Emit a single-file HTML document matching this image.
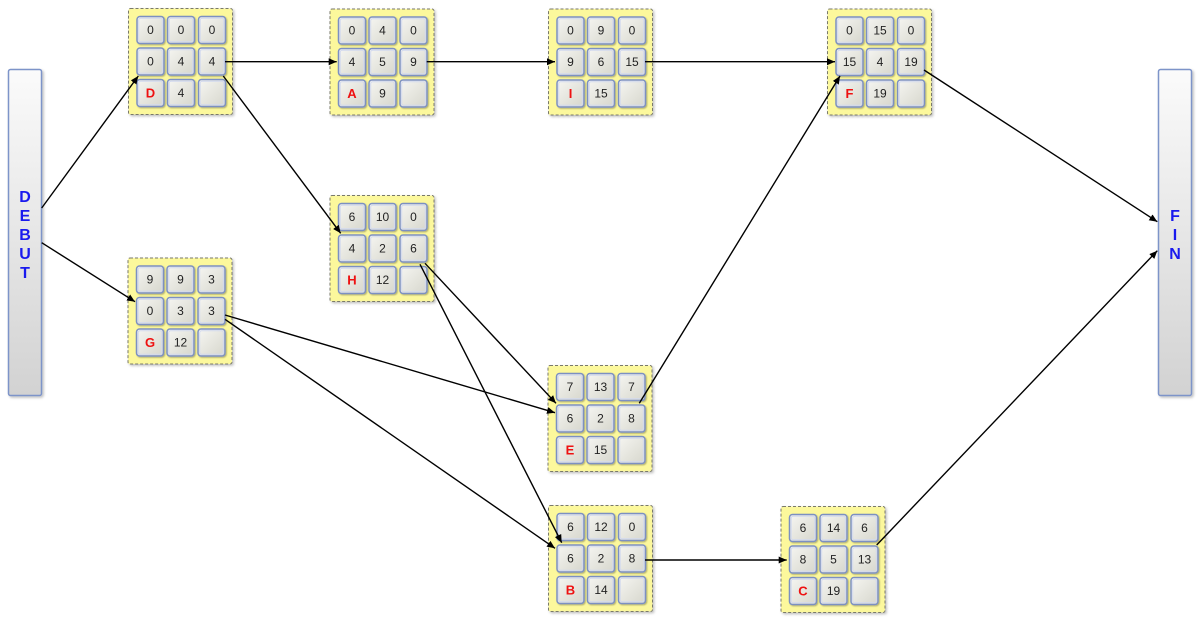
<!DOCTYPE html>
<html>
<head>
<meta charset="utf-8">
<style>
  html,body{margin:0;padding:0;background:#fff;}
  svg{display:block;}
  text{font-family:"Liberation Sans",Arial,sans-serif;}
  .n{font-size:12px;fill:#222;text-anchor:middle;}
  .l{font-size:13px;fill:#ee1111;font-weight:bold;text-anchor:middle;}
  .big{font-size:16px;fill:#1a1aee;font-weight:bold;text-anchor:middle;}
</style>
</head>
<body>
<svg width="1200" height="621" viewBox="0 0 1200 621" xmlns="http://www.w3.org/2000/svg">
  <defs>
    <linearGradient id="cg" x1="0" y1="0" x2="1" y2="1">
      <stop offset="0" stop-color="#f6f6f2"/>
      <stop offset="1" stop-color="#d6d6cc"/>
    </linearGradient>
    <linearGradient id="bg" x1="0" y1="0" x2="0" y2="1">
      <stop offset="0" stop-color="#fbfbfb"/>
      <stop offset="1" stop-color="#d2d2d2"/>
    </linearGradient>
    <filter id="sh" x="-10%" y="-10%" width="125%" height="125%">
      <feDropShadow dx="1.5" dy="1.5" stdDeviation="1.2" flood-color="#000" flood-opacity="0.25"/>
    </filter>
    <filter id="csh" x="-10%" y="-10%" width="130%" height="130%">
      <feDropShadow dx="1" dy="1" stdDeviation="0.7" flood-color="#000" flood-opacity="0.3"/>
    </filter>
    <g id="cell">
      <rect x="0.5" y="0.5" width="27" height="27" rx="3" fill="url(#cg)" stroke="#7c90c2" stroke-width="1.5" filter="url(#csh)"/>
      <rect x="2.2" y="2.2" width="23.6" height="23.6" rx="2" fill="none" stroke="#d2d9ee" stroke-width="1"/>
    </g>
    <g id="box">
      <rect x="0.5" y="0.5" width="104" height="106" rx="2" fill="#fcf89c" stroke="#7a7a6a" stroke-width="1" stroke-dasharray="3,2" filter="url(#sh)"/>
      <use href="#cell" x="8.5" y="8"/>
      <use href="#cell" x="39" y="8"/>
      <use href="#cell" x="70" y="8"/>
      <use href="#cell" x="8.5" y="39.5"/>
      <use href="#cell" x="39" y="39.5"/>
      <use href="#cell" x="70" y="39.5"/>
      <use href="#cell" x="8.5" y="71"/>
      <use href="#cell" x="39" y="71"/>
      <use href="#cell" x="70" y="71"/>
    </g>
    <marker id="ah" markerUnits="userSpaceOnUse" markerWidth="9" markerHeight="8" refX="8" refY="3.5" orient="auto">
      <path d="M0,0 L8,3.5 L0,7 z" fill="#000"/>
    </marker>
  </defs>

  <!-- DEBUT / FIN bars -->
  <rect x="8.5" y="69.5" width="33" height="326" rx="2" fill="url(#bg)" stroke="#7d94c9" stroke-width="1.5" filter="url(#sh)"/>
  <text class="big" x="25" y="202">D</text>
  <text class="big" x="25" y="221">E</text>
  <text class="big" x="25" y="240">B</text>
  <text class="big" x="25" y="259">U</text>
  <text class="big" x="25" y="278">T</text>

  <rect x="1158.5" y="69.5" width="33" height="326" rx="2" fill="url(#bg)" stroke="#7d94c9" stroke-width="1.5" filter="url(#sh)"/>
  <text class="big" x="1175" y="221">F</text>
  <text class="big" x="1175" y="240">I</text>
  <text class="big" x="1175" y="259">N</text>

  <!-- Node D -->
  <g transform="translate(128,8)">
    <use href="#box"/>
    <text class="n" x="22.5" y="26">0</text><text class="n" x="53" y="26">0</text><text class="n" x="84" y="26">0</text>
    <text class="n" x="22.5" y="57.5">0</text><text class="n" x="53" y="57.5">4</text><text class="n" x="84" y="57.5">4</text>
    <text class="l" x="22.5" y="89.5">D</text><text class="n" x="53" y="89">4</text>
  </g>
  <!-- Node A -->
  <g transform="translate(329.5,8.5)">
    <use href="#box"/>
    <text class="n" x="22.5" y="26">0</text><text class="n" x="53" y="26">4</text><text class="n" x="84" y="26">0</text>
    <text class="n" x="22.5" y="57.5">4</text><text class="n" x="53" y="57.5">5</text><text class="n" x="84" y="57.5">9</text>
    <text class="l" x="22.5" y="89.5">A</text><text class="n" x="53" y="89">9</text>
  </g>
  <!-- Node I -->
  <g transform="translate(548,8.5)">
    <use href="#box"/>
    <text class="n" x="22.5" y="26">0</text><text class="n" x="53" y="26">9</text><text class="n" x="84" y="26">0</text>
    <text class="n" x="22.5" y="57.5">9</text><text class="n" x="53" y="57.5">6</text><text class="n" x="84" y="57.5">15</text>
    <text class="l" x="22.5" y="89.5">I</text><text class="n" x="53" y="89">15</text>
  </g>
  <!-- Node F -->
  <g transform="translate(827,8.5)">
    <use href="#box"/>
    <text class="n" x="22.5" y="26">0</text><text class="n" x="53" y="26">15</text><text class="n" x="84" y="26">0</text>
    <text class="n" x="22.5" y="57.5">15</text><text class="n" x="53" y="57.5">4</text><text class="n" x="84" y="57.5">19</text>
    <text class="l" x="22.5" y="89.5">F</text><text class="n" x="53" y="89">19</text>
  </g>
  <!-- Node H -->
  <g transform="translate(329.5,195)">
    <use href="#box"/>
    <text class="n" x="22.5" y="26">6</text><text class="n" x="53" y="26">10</text><text class="n" x="84" y="26">0</text>
    <text class="n" x="22.5" y="57.5">4</text><text class="n" x="53" y="57.5">2</text><text class="n" x="84" y="57.5">6</text>
    <text class="l" x="22.5" y="89.5">H</text><text class="n" x="53" y="89">12</text>
  </g>
  <!-- Node G -->
  <g transform="translate(127.5,257.5)">
    <use href="#box"/>
    <text class="n" x="22.5" y="26">9</text><text class="n" x="53" y="26">9</text><text class="n" x="84" y="26">3</text>
    <text class="n" x="22.5" y="57.5">0</text><text class="n" x="53" y="57.5">3</text><text class="n" x="84" y="57.5">3</text>
    <text class="l" x="22.5" y="89.5">G</text><text class="n" x="53" y="89">12</text>
  </g>
  <!-- Node E -->
  <g transform="translate(547.5,365)">
    <use href="#box"/>
    <text class="n" x="22.5" y="26">7</text><text class="n" x="53" y="26">13</text><text class="n" x="84" y="26">7</text>
    <text class="n" x="22.5" y="57.5">6</text><text class="n" x="53" y="57.5">2</text><text class="n" x="84" y="57.5">8</text>
    <text class="l" x="22.5" y="89.5">E</text><text class="n" x="53" y="89">15</text>
  </g>
  <!-- Node B -->
  <g transform="translate(548,505)">
    <use href="#box"/>
    <text class="n" x="22.5" y="26">6</text><text class="n" x="53" y="26">12</text><text class="n" x="84" y="26">0</text>
    <text class="n" x="22.5" y="57.5">6</text><text class="n" x="53" y="57.5">2</text><text class="n" x="84" y="57.5">8</text>
    <text class="l" x="22.5" y="89.5">B</text><text class="n" x="53" y="89">14</text>
  </g>
  <!-- Node C -->
  <g transform="translate(780.5,506)">
    <use href="#box"/>
    <text class="n" x="22.5" y="26">6</text><text class="n" x="53" y="26">14</text><text class="n" x="84" y="26">6</text>
    <text class="n" x="22.5" y="57.5">8</text><text class="n" x="53" y="57.5">5</text><text class="n" x="84" y="57.5">13</text>
    <text class="l" x="22.5" y="89.5">C</text><text class="n" x="53" y="89">19</text>
  </g>

  <!-- Connectors -->
  <g stroke="#000" stroke-width="1.4" fill="none" marker-end="url(#ah)">
    <line x1="41.7" y1="208" x2="138.3" y2="76"/>
    <line x1="41.7" y1="242.7" x2="135" y2="301.7"/>
    <line x1="225" y1="61.7" x2="336.7" y2="61.7"/>
    <line x1="223.3" y1="76" x2="340.7" y2="233.3"/>
    <line x1="426.7" y1="61.7" x2="555" y2="61.7"/>
    <line x1="645" y1="61.7" x2="835" y2="61.7"/>
    <line x1="924" y1="70" x2="1157.3" y2="221.7"/>
    <line x1="639.3" y1="403.3" x2="840" y2="76"/>
    <line x1="425" y1="263.3" x2="556" y2="403.3"/>
    <line x1="420" y1="264.3" x2="561.7" y2="542.7"/>
    <line x1="225" y1="315" x2="555" y2="412.7"/>
    <line x1="225" y1="319.3" x2="555" y2="548.3"/>
    <line x1="645" y1="560" x2="786.7" y2="560"/>
    <line x1="876.7" y1="545" x2="1157.3" y2="250.7"/>
  </g>
</svg>
</body>
</html>
